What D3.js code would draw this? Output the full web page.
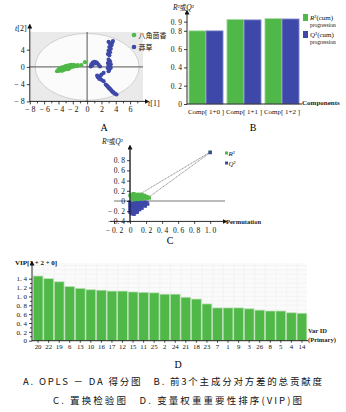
<!DOCTYPE html>
<html><head><meta charset="utf-8">
<script src="https://cdn.jsdelivr.net/npm/d3@7"></script>
<style>body{margin:0;background:#fff}svg{display:block}</style>
</head><body><svg id="c" width="346" height="412"></svg>
<script>
// ---------- Panel A: OPLS-DA scores ----------
const groupsA = ["八角茴香", "莽草"];
const scoresGreen = [[-4.2,-1.0],[-4.0,-0.6],[-3.9,-0.9],[-3.8,-0.3],[-3.7,-0.7],[-3.6,-0.5],[-3.5,-0.1],[-3.5,-0.9],[-3.4,-0.4],[-3.3,-0.7],[-3.2,0.0],[-3.2,-0.3],[-3.1,-0.6],[-3.0,0.2],[-3.0,-0.2],[-2.9,-0.5],[-2.8,0.1],[-2.8,-0.3],[-2.7,0.3],[-2.6,-0.1],[-2.6,-0.5],[-2.5,0.2],[-2.4,0.4],[-2.4,-0.2],[-2.3,0.1],[-2.2,0.5],[-2.1,0.0],[-2.0,0.3],[-1.9,0.5],[-1.8,0.1],[-1.6,0.3],[-1.4,0.2],[-1.3,0.4],[-0.8,0.4],[-0.3,1.1]];
const scoresBlue = [[0.5,0.1],[0.6,0.6],[0.8,1.0],[1.0,1.2],[1.2,1.1],[1.4,0.9],[1.6,0.5],[1.8,0.1],[1.1,0.8],[0.7,0.3],
  [3.6,6.0],[3.0,5.8],[3.2,5.4],[3.4,5.0],[3.1,4.6],[3.3,4.2],[3.0,3.8],[3.2,3.4],[2.9,3.0],[3.1,2.7],[3.5,5.6],
  [3.0,1.7],[3.2,1.3],[2.9,0.9],[3.3,0.6],[3.0,0.3],[3.2,0.0],[2.9,-0.3],[3.1,-0.6],[3.3,-0.2],[3.0,-1.0],
  [2.3,-1.4],[2.0,-1.8],[1.8,-2.2],[1.5,-2.4],[1.7,-2.8],[2.0,-3.0],[2.3,-3.3],[1.4,-2.0],
  [2.6,-4.1],[2.8,-4.4],[3.0,-4.8],[3.1,-5.0],[3.3,-5.3],[3.4,-5.5],[3.5,-5.7],[3.6,-5.8],[3.7,-6.0],[3.9,-6.2],[4.1,-6.4],[3.2,-5.1],[2.9,-4.6]];
const xTicksA = [-8,-6,-4,-2,0,2,4,6];
const yTicksA = [-8,-4,0,4];

// ---------- Panel B: cumulative R2 / Q2 ----------
const componentsB = ["Comp[1+0]","Comp[1+1]","Comp[1+2]"];
const r2cum = [0.80, 0.925, 0.935];
const q2cum = [0.80, 0.92, 0.93];
const yTicksB = [0, 0.2, 0.4, 0.6, 0.8, 0.9];

// ---------- Panel C: permutation test ----------
const permR2 = [[0.00,0.11],[0.01,0.08],[0.02,0.12],[0.03,0.05],[0.03,0.02],[0.04,0.10],[0.04,0.14],[0.05,0.14],[0.06,0.07],[0.06,0.03],[0.07,0.11],[0.08,0.04],[0.09,0.13],[0.10,0.08],[0.11,0.12],[0.11,0.03],[0.12,0.05],[0.13,0.10],[0.13,0.13],[0.14,0.07],[0.15,0.12],[0.16,0.04],[0.17,0.09],[0.18,0.11],[0.19,0.06],[0.20,0.09],[0.21,0.05],[0.22,0.08],[0.24,0.06]];
const permQ2 = [[0.00,-0.02],[0.03,-0.01],[0.06,-0.03],[0.09,-0.02],[0.12,-0.01],[0.15,-0.03],[0.18,-0.02],[0.21,-0.03],
  [0.00,-0.06],[0.03,-0.07],[0.06,-0.05],[0.09,-0.07],[0.12,-0.06],[0.15,-0.05],[0.18,-0.07],[0.22,-0.06],
  [0.00,-0.10],[0.03,-0.11],[0.06,-0.09],[0.09,-0.10],[0.12,-0.11],[0.15,-0.09],[0.19,-0.10],
  [0.00,-0.14],[0.03,-0.13],[0.06,-0.15],[0.09,-0.14],[0.12,-0.13],[0.15,-0.14],
  [0.00,-0.18],[0.03,-0.17],[0.06,-0.19],[0.09,-0.18],[0.12,-0.17],
  [0.00,-0.22],[0.03,-0.21],[0.06,-0.23],[0.09,-0.22],
  [0.02,-0.25],[0.05,-0.26]];
const origR2 = [1.0, 0.96];
const origQ2 = [1.0, 0.95];
const lineR2 = [[0.146,0.157],[1.0,0.96]];
const lineQ2 = [[0.23,0.07],[1.0,0.95]];
const xTicksC = [-0.2,0,0.2,0.4,0.6,0.8,1.0];
const yTicksC = [-0.4,-0.2,0,0.2,0.4,0.6,0.8];

// ---------- Panel D: VIP ----------
const varIds = ["20","22","19","6","13","10","16","17","12","15","11","25","2","24","21","18","23","7","1","9","3","26","8","5","4","14"];
const vipValues = [1.46,1.40,1.33,1.22,1.18,1.15,1.14,1.12,1.12,1.10,1.09,1.08,1.05,1.05,0.98,0.94,0.83,0.74,0.74,0.74,0.72,0.69,0.67,0.67,0.63,0.62];
const yTicksD = [0,0.2,0.4,0.6,0.8,1.0,1.2,1.4];

// ---------- styling ----------
const GREEN = "#4fb848", BLUE = "#3d48a8";
const serif = "'Liberation Serif','Times New Roman',serif";
const cjk = "'Noto Sans CJK SC','Noto Sans CJK JP',sans-serif";
const svg = d3.select("#c");
const defs = svg.append("defs");
defs.append("marker").attr("id","arr").attr("viewBox","0 0 6 6").attr("refX",3).attr("refY",3)
  .attr("markerWidth",5).attr("markerHeight",5).attr("markerUnits","userSpaceOnUse").attr("orient","auto")
  .append("path").attr("d","M0,0L6,3L0,6Z").attr("fill","#111");
const fmtNeg = d => d < 0 ? "− " + Math.abs(d) : String(d);
const fmtDec = d => { const s = d < 0 ? "− " : ""; const a = Math.abs(d); return a === 0 ? "0" : s + a.toFixed(1).replace(".", ". "); };

function styleAxis(g, fs) {
  g.select(".domain").remove();
  g.selectAll(".tick line").attr("stroke","#111").attr("stroke-width",0.8);
  g.selectAll(".tick text").attr("font-family",serif).attr("font-size",fs).attr("fill","#111");
}
function arrowLine(x1,y1,x2,y2,col){
  svg.append("line").attr("x1",x1).attr("y1",y1).attr("x2",x2).attr("y2",y2)
    .attr("stroke",col||"#111").attr("stroke-width",0.9).attr("marker-end","url(#arr)");
}

// ================= Panel A =================
{
  const x = d3.scaleLinear().domain([-8,7.8]).range([29.8,143]);
  const y = d3.scaleLinear().domain([-8,8.1]).range([101.4,32]);
  svg.append("rect").attr("x",x(-8)).attr("y",y(8.1)).attr("width",x(7.8)-x(-8)).attr("height",y(-8)-y(8.1)).attr("fill","#eaeaea");
  svg.append("ellipse").attr("cx",x(0)).attr("cy",y(0)).attr("rx",52).attr("ry",33.5)
    .attr("fill","#fbfbfb").attr("stroke","#cccccc").attr("stroke-width",0.9);
  svg.append("line").attr("x1",x(-8)).attr("x2",x(7.8)).attr("y1",y(0)).attr("y2",y(0)).attr("stroke","#555").attr("stroke-width",1);
  svg.append("line").attr("x1",x(0)).attr("x2",x(0)).attr("y1",y(-8)).attr("y2",y(8.1)).attr("stroke","#555").attr("stroke-width",1);
  svg.append("g").selectAll("circle").data(scoresGreen).join("circle")
    .attr("cx",d=>x(d[0])).attr("cy",d=>y(d[1])).attr("r",2.1).attr("fill",GREEN);
  svg.append("g").selectAll("circle").data(scoresBlue).join("circle")
    .attr("cx",d=>x(d[0])).attr("cy",d=>y(d[1])).attr("r",2.1).attr("fill",BLUE);
  const gl = svg.append("g").attr("transform",`translate(${x(-8)},0)`)
    .call(d3.axisLeft(y).tickValues(yTicksA).tickSize(3).tickPadding(2).tickFormat(fmtNeg));
  styleAxis(gl, 8);
  const gb = svg.append("g").attr("transform",`translate(0,${y(-8)})`)
    .call(d3.axisBottom(x).tickValues(d3.range(-8,8,1)).tickSize(2).tickFormat(d => xTicksA.includes(d) ? fmtNeg(d) : ""));
  styleAxis(gb, 8);
  gb.selectAll(".tick line").attr("y2", d => xTicksA.includes(d) ? 3 : 2);
  arrowLine(x(-8), y(-8)+0.5, x(-8), 26);
  arrowLine(x(-8), y(-8), 147, y(-8));
  svg.append("text").attr("x",15).attr("y",31).attr("font-family",serif).attr("font-size",8).attr("fill","#111")
    .html('<tspan font-style="italic">t</tspan>[2]');
  svg.append("text").attr("x",148).attr("y",106).attr("font-family",serif).attr("font-size",8).attr("fill","#111")
    .html('<tspan font-style="italic">t</tspan>[1]');
  // legend
  [GREEN, BLUE].forEach((c,i) => {
    svg.append("circle").attr("cx",134).attr("cy",35+i*12).attr("r",2.3).attr("fill",c);
    svg.append("text").attr("x",138.5).attr("y",37.5+i*12).attr("font-family",cjk).attr("font-size",7).attr("fill","#111").text(groupsA[i]);
  });
  svg.append("text").attr("x",104).attr("y",131).attr("text-anchor","middle").attr("font-family",serif).attr("font-size",10).text("A");
}

// ================= Panel B =================
{
  const y = d3.scaleLinear().domain([0,1]).range([104,12.5]);
  const x = d3.scaleBand().domain(componentsB).range([187,301]).paddingInner(0.1).paddingOuter(0.05);
  const bw = x.bandwidth()/2;
  svg.append("g").selectAll("rect").data(componentsB).join("rect")
    .attr("x",d=>x(d)).attr("y",(d,i)=>y(r2cum[i])).attr("width",bw).attr("height",(d,i)=>y(0)-y(r2cum[i]))
    .attr("fill",GREEN).attr("stroke","#b6deb0").attr("stroke-width",0.8);
  svg.append("g").selectAll("rect").data(componentsB).join("rect")
    .attr("x",d=>x(d)+bw).attr("y",(d,i)=>y(q2cum[i])).attr("width",bw).attr("height",(d,i)=>y(0)-y(q2cum[i]))
    .attr("fill",BLUE).attr("stroke","#9ea4d6").attr("stroke-width",0.8);
  const gl = svg.append("g").attr("transform","translate(187,0)")
    .call(d3.axisLeft(y).tickValues(yTicksB).tickSize(3).tickPadding(2).tickFormat(fmtDec));
  styleAxis(gl, 7.5);
  arrowLine(187, 104.5, 187, 12);
  svg.append("line").attr("x1",187).attr("x2",302).attr("y1",104).attr("y2",104).attr("stroke","#111").attr("stroke-width",0.9);
  const gb = svg.append("g").attr("transform","translate(0,104)").call(d3.axisBottom(x).tickSize(0).tickPadding(5));
  styleAxis(gb, 7);
  gb.selectAll(".tick text").text(d => d.replace("[", "[ ").replace("]", " ]"));
  svg.append("text").attr("x",302).attr("y",105).attr("font-family",serif).attr("font-size",7).attr("font-weight","bold").attr("fill","#222").text("Components");
  svg.append("text").attr("x",173).attr("y",10).attr("font-family",serif).attr("font-size",7.5).attr("fill","#111")
    .html('<tspan font-style="italic">R</tspan>²<tspan font-family="' + cjk.replace(/'/g,"") + '" font-size="6.5">或</tspan><tspan font-style="italic">Q</tspan>²');
  const legB = [[GREEN,"R","(cum)"],[BLUE,"Q","(cum)"]];
  legB.forEach((l,i) => {
    svg.append("rect").attr("x",303).attr("y",14+i*17).attr("width",5).attr("height",7).attr("fill",l[0]);
    svg.append("text").attr("x",310).attr("y",20+i*17).attr("font-family",serif).attr("font-size",7).attr("fill","#111")
      .html('<tspan font-style="italic">'+l[1]+'</tspan>²'+l[2]);
    svg.append("text").attr("x",310).attr("y",26.5+i*17).attr("font-family",serif).attr("font-size",5.5).attr("fill","#111").text("progression");
  });
  svg.append("text").attr("x",253).attr("y",131).attr("text-anchor","middle").attr("font-family",serif).attr("font-size",10).text("B");
}

// ================= Panel C =================
{
  const x = d3.scaleLinear().domain([-0.2,1.16]).range([114,223]);
  const y = d3.scaleLinear().domain([-0.4,1.05]).range([221.4,147.45]);
  svg.append("line").attr("x1",x(-0.2)).attr("x2",225).attr("y1",y(0)).attr("y2",y(0)).attr("stroke","#777").attr("stroke-width",1);
  svg.append("line").attr("x1",x(0)).attr("x2",x(0)).attr("y1",y(-0.4)).attr("y2",150).attr("stroke","#555").attr("stroke-width",1);
  [lineR2, lineQ2].forEach(l => {
    svg.append("line").attr("x1",x(l[0][0])).attr("y1",y(l[0][1])).attr("x2",x(l[1][0])).attr("y2",y(l[1][1]))
      .attr("stroke","#444").attr("stroke-width",0.6).attr("stroke-dasharray","1.2,0.6");
  });
  const s = 3.4;
  svg.append("g").selectAll("rect").data(permQ2).join("rect")
    .attr("x",d=>x(d[0])-s/2).attr("y",d=>y(d[1])-s/2).attr("width",s).attr("height",s).attr("fill",BLUE);
  svg.append("g").selectAll("rect").data(permR2).join("rect")
    .attr("x",d=>x(d[0])-s/2).attr("y",d=>y(d[1])-s/2).attr("width",s).attr("height",s).attr("fill",GREEN);
  svg.append("rect").attr("x",x(origR2[0])-1.7).attr("y",y(origR2[1])-1.7).attr("width",3.4).attr("height",3.4).attr("fill",GREEN);
  svg.append("rect").attr("x",x(origQ2[0])-1.7).attr("y",y(origQ2[1])-1.7).attr("width",3.4).attr("height",3.4).attr("fill",BLUE);
  const gl = svg.append("g").attr("transform",`translate(${x(0)},0)`)
    .call(d3.axisLeft(y).tickValues(yTicksC).tickSize(3).tickPadding(2).tickFormat(fmtDec));
  styleAxis(gl, 7.5);
  arrowLine(x(0), y(-0.4), x(0), 147);
  const gb = svg.append("g").attr("transform",`translate(0,${y(-0.4)})`)
    .call(d3.axisBottom(x).tickValues(xTicksC).tickSize(2.5).tickPadding(4).tickFormat(fmtDec));
  styleAxis(gb, 7.5);
  arrowLine(x(-0.2)-4, y(-0.4), 225, y(-0.4));
  svg.append("text").attr("x",226).attr("y",224).attr("font-family",serif).attr("font-size",6.5).attr("font-weight","bold").attr("fill","#222").text("Permutation");
  svg.append("text").attr("x",102).attr("y",144).attr("font-family",serif).attr("font-size",7.5).attr("fill","#111")
    .html('<tspan font-style="italic">R</tspan>²<tspan font-family="' + cjk.replace(/'/g,"") + '" font-size="6.5">或</tspan><tspan font-style="italic">Q</tspan>²');
  [[GREEN,"R"],[BLUE,"Q"]].forEach((l,i) => {
    svg.append("rect").attr("x",225).attr("y",151.5+i*10).attr("width",3).attr("height",3).attr("fill",l[0]);
    svg.append("text").attr("x",228.5).attr("y",155.5+i*10).attr("font-family",serif).attr("font-size",7).attr("fill","#111")
      .html('<tspan font-style="italic">'+l[1]+'</tspan>²');
  });
  svg.append("text").attr("x",170).attr("y",244).attr("text-anchor","middle").attr("font-family",serif).attr("font-size",10).text("C");
}

// ================= Panel D =================
{
  const y = d3.scaleLinear().domain([0,1.4]).range([340.7,278.7]);
  const x = d3.scaleBand().domain(varIds).range([33,307]).paddingInner(0.08).paddingOuter(0.02);
  svg.append("rect").attr("x",33).attr("y",263).attr("width",274).attr("height",y(0)-263).attr("fill","#fbfbfb");
  const grid = svg.append("g").attr("stroke","#f1f1f1").attr("stroke-width",0.8);
  d3.range(0.1,1.75,0.1).forEach(v => grid.append("line").attr("x1",33).attr("x2",307).attr("y1",y(v)).attr("y2",y(v)));
  varIds.forEach(v => grid.append("line").attr("x1",x(v)).attr("x2",x(v)).attr("y1",263).attr("y2",y(0)));
  svg.append("g").selectAll("rect").data(varIds).join("rect")
    .attr("x",d=>x(d)).attr("y",(d,i)=>y(vipValues[i])).attr("width",x.bandwidth()).attr("height",(d,i)=>y(0)-y(vipValues[i]))
    .attr("fill",GREEN).attr("stroke","#b9dfb3").attr("stroke-width",0.7);
  const gl = svg.append("g").attr("transform","translate(32,0)")
    .call(d3.axisLeft(y).tickValues(d3.range(0,1.45,0.1)).tickSize(2).tickPadding(3)
      .tickFormat(d => yTicksD.some(t => Math.abs(t-d)<1e-6) ? fmtDec(Math.round(d*10)/10) : ""));
  styleAxis(gl, 7);
  gl.selectAll(".tick line").attr("x2", d => yTicksD.some(t => Math.abs(t-d)<1e-6) ? -3 : -2);
  arrowLine(32, y(0)+0.5, 32, 263);
  svg.append("line").attr("x1",32).attr("x2",308).attr("y1",y(0)).attr("y2",y(0)).attr("stroke","#111").attr("stroke-width",0.9);
  const gb = svg.append("g").attr("transform",`translate(0,${y(0)})`).call(d3.axisBottom(x).tickSize(2).tickPadding(1.5));
  styleAxis(gb, 6.8);
  svg.append("text").attr("x",15).attr("y",265).attr("font-family",serif).attr("font-size",7).attr("font-weight","bold").attr("fill","#111").text("VIP[1 + 2 + 0]");
  svg.append("text").attr("x",308).attr("y",333).attr("font-family",serif).attr("font-size",6.5).attr("font-weight","bold").attr("fill","#222").text("Var ID");
  svg.append("text").attr("x",308).attr("y",341.5).attr("font-family",serif).attr("font-size",6.5).attr("font-weight","bold").attr("fill","#222").text("(Primary)");
  svg.append("text").attr("x",178).attr("y",368).attr("text-anchor","middle").attr("font-family",serif).attr("font-size",10).text("D");
}

// ================= Captions =================
svg.append("text").attr("x",23).attr("y",385).attr("font-family",cjk).attr("font-size",9.5).attr("fill","#111")
  .attr("textLength",299).attr("lengthAdjust","spacing").text("A. OPLS － DA 得分图　B. 前3个主成分对方差的总贡献度");
svg.append("text").attr("x",53).attr("y",404).attr("font-family",cjk).attr("font-size",9.5).attr("fill","#111")
  .attr("textLength",249).attr("lengthAdjust","spacing").text("C. 置换检验图　D. 变量权重重要性排序(VIP)图");
</script></body></html>
